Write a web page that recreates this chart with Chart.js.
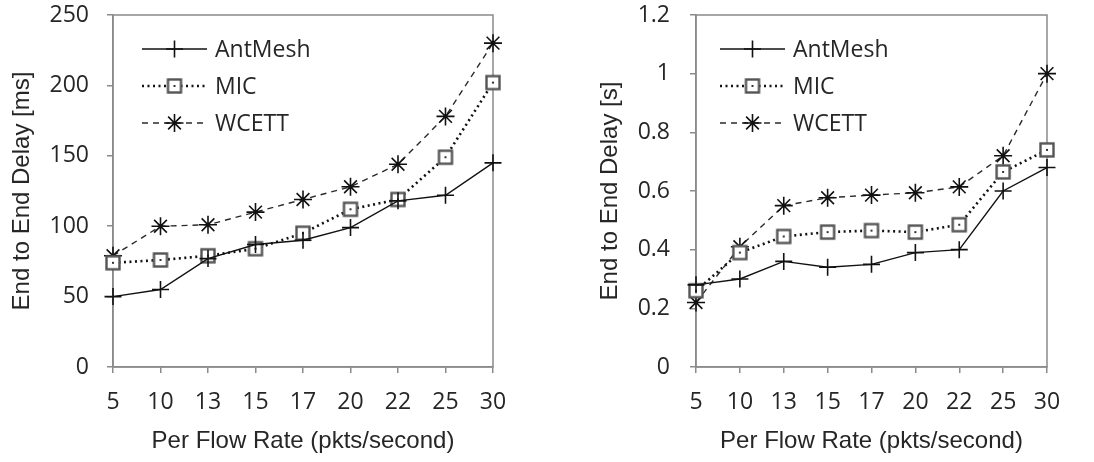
<!DOCTYPE html>
<html>
<head>
<meta charset="utf-8">
<script src="https://cdn.jsdelivr.net/npm/chart.js@4.4.1/dist/chart.umd.min.js"></script>
<style>
  body{margin:0;background:#fff;}
  .box{position:absolute;top:0;height:462px;}
</style>
</head>
<body>
<div class="box" style="left:0;width:520px"><canvas id="delayMs"></canvas></div>
<div class="box" style="left:560px;width:534px"><canvas id="delaySec"></canvas></div>
<script>
const flowRates = ['5','10','13','15','17','20','22','25','30'];

// left panel, delay in ms
const msAntMesh = [50, 55, 77, 87, 90, 99, 118, 122, 145];
const msMIC     = [74, 76, 79, 84, 95, 112, 119, 149, 202];
const msWCETT   = [79, 100, 101, 110, 119, 128, 144, 178, 230];
const msTicks   = [0, 50, 100, 150, 200, 250];

// right panel, delay in s
const secAntMesh = [0.28, 0.30, 0.36, 0.34, 0.35, 0.39, 0.40, 0.60, 0.68];
const secMIC     = [0.26, 0.39, 0.445, 0.46, 0.465, 0.46, 0.485, 0.665, 0.74];
const secWCETT   = [0.22, 0.41, 0.55, 0.577, 0.586, 0.594, 0.614, 0.72, 1.0];
const secTicks   = [0, 0.2, 0.4, 0.6, 0.8, 1, 1.2];

const NUMFONT = '"Open Sans", Lato, sans-serif';
const TITLEFONT = '"Liberation Sans", Arial, sans-serif';
const TEXT = '#262626';
const AXIS = '#8a8a8a';

// square with a dot in the middle for the MIC series
function squareDot(){
    var c=document.createElement('canvas');
    c.width=18; c.height=18;
    var g=c.getContext('2d');
    g.fillStyle='#fff';
    g.fillRect(2,2,14,14);
    g.strokeStyle='#555';
    g.lineWidth=2.4;
    g.strokeRect(2.5,2.5,13,13);
    g.fillStyle='#333';
    g.fillRect(8,8,2,2);
    return c;
}
const micMarker = squareDot();

function makeSets(ant, mic, wcett){
    return [{
        label:'AntMesh', data:ant, clip:false,
        borderColor:'#111', borderWidth:1.4, borderDash:[],
        pointStyle:'cross', pointRadius:8.5, pointBorderWidth:1.6,
        pointBorderColor:'#111', pointBackgroundColor:'#111'
    },{
        label:'MIC', data:mic, clip:false,
        borderColor:'#111', borderWidth:2.6, borderDash:[2,3.5],
        pointStyle:micMarker, pointRadius:9
    },{
        label:'WCETT', data:wcett, clip:false,
        borderColor:'#2a2a2a', borderWidth:1.4, borderDash:[6,5],
        pointStyle:'star', pointRadius:9, pointBorderWidth:1.6,
        pointBorderColor:'#111', pointBackgroundColor:'#111'
    }];
}

// frame round the plot area + legend drawn inside it
const framePlugin={
    id:'frame',
    beforeDatasetsDraw(chart){
        const a=chart.chartArea, ctx=chart.ctx;
        ctx.save();
        ctx.strokeStyle=AXIS;
        ctx.lineWidth=1.5;
        ctx.strokeRect(a.left,a.top,a.right-a.left,a.bottom-a.top);
        ctx.restore();
    },
    afterDatasetsDraw(chart){
        const a=chart.chartArea, ctx=chart.ctx;
        const lg=chart.options.plugins.insideLegend;
        chart.data.datasets.forEach(function(ds,i){
            const y=a.top+34+i*37;
            const x0=a.left+lg.x, x1=x0+65;
            ctx.save();
            ctx.strokeStyle=ds.borderColor;
            ctx.lineWidth=ds.borderWidth;
            ctx.setLineDash(ds.borderDash);
            ctx.beginPath();
            ctx.moveTo(x0,y); ctx.lineTo(x1,y);
            ctx.stroke();
            ctx.setLineDash([]);
            ctx.strokeStyle=ds.pointBorderColor||'#111';
            ctx.fillStyle=ds.pointBackgroundColor||'#111';
            ctx.lineWidth=ds.pointBorderWidth||1.5;
            Chart.helpers.drawPoint(ctx,{pointStyle:ds.pointStyle,radius:ds.pointRadius,borderWidth:ds.pointBorderWidth||1.5,rotation:0},(x0+x1)/2,y);
            ctx.fillStyle=TEXT;
            ctx.font='23px '+NUMFONT;
            ctx.textBaseline='middle';
            ctx.fillText(ds.label,x1+8,y+1);
            ctx.restore();
        });
    }
};

function drawPanel(id, sets, ticks, yTitle, axisWidth, titlePad, tickPad, legendX, padRight){
    const ctx=document.getElementById(id).getContext('2d');
    return new Chart(ctx,{
        type:'line',
        data:{labels:flowRates, datasets:sets},
        options:{
            responsive:true,
            maintainAspectRatio:false,
            animation:false,
            layout:{padding:{top:15,right:padRight,left:0,bottom:0}},
            plugins:{
                legend:{display:false},
                tooltip:{enabled:false},
                insideLegend:{x:legendX}
            },
            scales:{
                x:{
                    offset:false,
                    grid:{display:true,drawOnChartArea:false,tickLength:6,color:AXIS,lineWidth:1.5},
                    border:{color:AXIS,width:1.5},
                    ticks:{color:TEXT,font:{family:NUMFONT,size:23},padding:16,maxRotation:0},
                    title:{display:true,text:'Per Flow Rate (pkts/second)',color:TEXT,font:{family:TITLEFONT,size:24},padding:6.5},
                    afterFit(s){ s.height=95; s.paddingLeft=0; s.paddingRight=0; }
                },
                y:{
                    min:ticks[0], max:ticks[ticks.length-1],
                    afterBuildTicks(s){ s.ticks=ticks.map(v=>({value:v})); },
                    grid:{display:true,drawOnChartArea:false,tickLength:6,color:AXIS,lineWidth:1.5},
                    border:{color:AXIS,width:1.5},
                    ticks:{color:TEXT,font:{family:NUMFONT,size:23},padding:tickPad,callback:v=>String(v)},
                    title:{display:true,text:yTitle,color:TEXT,font:{family:TITLEFONT,size:24},padding:titlePad},
                    afterFit(s){ s.width=axisWidth; s.paddingTop=0; s.paddingBottom=0; }
                }
            }
        },
        plugins:[framePlugin]
    });
}

drawPanel('delayMs', makeSets(msAntMesh,msMIC,msWCETT), msTicks, 'End to End Delay [ms]', 113, 7.5, 18, 29, 27);
drawPanel('delaySec', makeSets(secAntMesh,secMIC,secWCETT), secTicks, 'End to End Delay [s]', 136, 35.5, 20, 24, 47);
</script>
</body>
</html>
